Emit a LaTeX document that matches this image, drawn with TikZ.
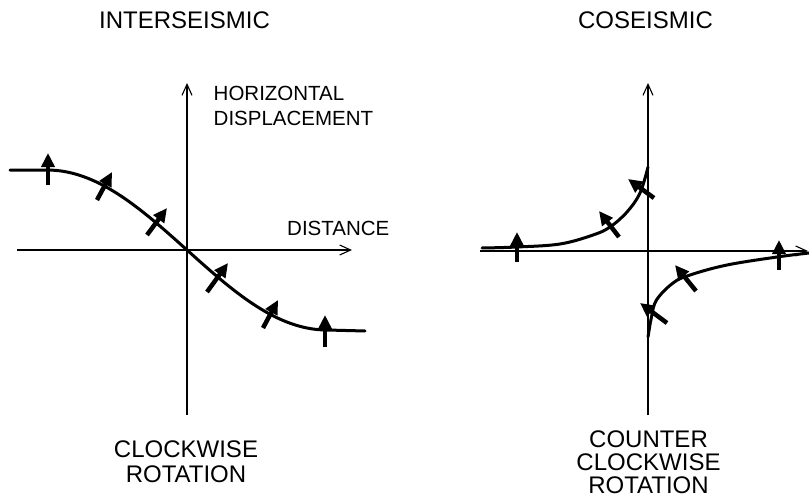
\documentclass[tikz,border=0pt]{standalone}
\usepackage{fontspec}
\setmainfont{Liberation Sans}
\usetikzlibrary{arrows.meta}
\begin{document}
\begin{tikzpicture}[x=1pt,y=-1pt,
  axis/.style={line width=1.1pt, -{Straight Barb[length=11pt,width=10pt,line width=1.1pt]}},
  curve/.style={line width=3pt, line cap=round},
  vec/.style={line width=4.5pt, -{Triangle[length=14pt,width=13pt]}},
  big/.style={font=\fontsize{24}{24}\selectfont, inner sep=0pt},
  mid/.style={font=\fontsize{20.5}{20}\selectfont, inner sep=0pt}]
\useasboundingbox (0,0) rectangle (809,498);
% ---------- axes ----------
\coordinate (LxS) at (17,250);
\coordinate (LxE) at (352,250);
\coordinate (LyS) at (187,415);
\coordinate (LyE) at (187,83);
\coordinate (RxS) at (480,251);
\coordinate (RxE) at (808,251);
\coordinate (RyS) at (648,415);
\coordinate (RyE) at (648,83);
\draw[axis] (LxS) -- (LxE);
\draw[axis] (LyS) -- (LyE);
\draw[axis] (RxS) -- (RxE);
\draw[axis] (RyS) -- (RyE);
% ---------- labels ----------
\node[big, anchor=base] (t1) at (184.5,28) {INTERSEISMIC};
\node[big, anchor=base] (t2) at (645.5,28) {COSEISMIC};
\node[mid, anchor=base west] (hd1) at (213.5,100) {HORIZONTAL};
\node[mid, anchor=base west] (hd2) at (213.5,125) {DISPLACEMENT};
\node[mid, anchor=base west] (ds) at (287,235) {DISTANCE};
\node[big, anchor=base] (b1) at (186,457) {CLOCKWISE};
\node[big, anchor=base] (b2) at (186,482) {ROTATION};
\node[big, anchor=base] (c1) at (648.5,447) {COUNTER};
\node[big, anchor=base] (c2) at (648.5,470) {CLOCKWISE};
\node[big, anchor=base] (c3) at (648.5,493) {ROTATION};
% ---------- curves ----------
\draw[curve] (10,170) -- plot[domain=47:327, samples=70] (\x,{250+80*sin((\x-187)/280*180)}) -- (365,331);
\draw[curve] plot[smooth, tension=0.6] coordinates {(482,248) (517,247) (560,244) (593,235) (610,227) (627,212) (640,193) (648,167)};
\draw[curve] plot[smooth, tension=0.6] coordinates {(648,337) (651.5,317) (656.5,300) (673,283) (690,275) (727,265) (777,257) (809,253)};
% ---------- displacement vectors ----------
\draw[vec] (48,185) -- (48,153);
\draw[vec] (97,200) -- (112,172);
\draw[vec] (147,235) -- (167,208);
\draw[vec] (207,292) -- (228,263);
\draw[vec] (263,328) -- (278,300);
\draw[vec] (325,347) -- (325,315);
\draw[vec] (517,262) -- (517,232);
\draw[vec] (619,237) -- (599,211);
\draw[vec] (654,198) -- (628,179);
\draw[vec] (667,323) -- (640,303);
\draw[vec] (696,291) -- (675,265);
\draw[vec] (779,270) -- (779,240);
\end{tikzpicture}
\end{document}
